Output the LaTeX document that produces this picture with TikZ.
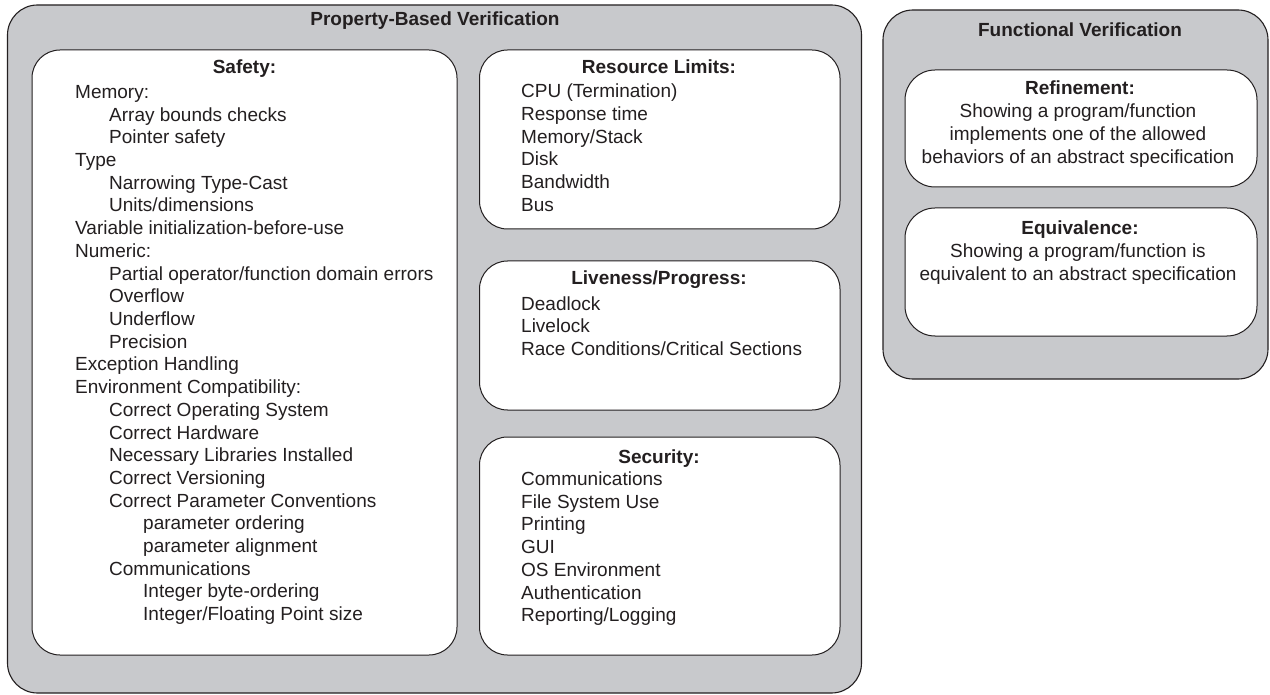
\documentclass[tikz,border=0pt]{standalone}
\usepackage{fontspec}
\setmainfont{Liberation Sans}
\definecolor{boxgray}{RGB}{200,201,204}
\definecolor{ink}{RGB}{35,31,32}
\begin{document}
\begin{tikzpicture}[x=1pt,y=-1pt,
  outerbox/.style={draw=ink,fill=boxgray,line width=1.1pt,rounded corners=30pt},
  innerbox/.style={draw=ink,fill=white,line width=1pt,rounded corners=28pt},
  txt/.style={inner sep=0pt,anchor=base west,text=ink,font=\fontsize{19}{22.7}\selectfont},
  ctxt/.style={inner sep=0pt,anchor=base,text=ink,font=\fontsize{19}{22.7}\selectfont},
  ttl/.style={inner sep=0pt,anchor=base,text=ink,font=\fontsize{19}{22.7}\selectfont\bfseries}]
\useasboundingbox (0,0) rectangle (1270,695);
% containers
\path[outerbox] (7.5,5) rectangle (861.5,693);
\path[outerbox] (883,10) rectangle (1268,379);
\path[innerbox] (32,50) rectangle (457,655);
\path[innerbox] (479.5,50) rectangle (840,229);
\path[innerbox] (479.5,261) rectangle (840,410);
\path[innerbox] (479.5,437) rectangle (840,655);
\path[innerbox,rounded corners=30pt] (905,70) rectangle (1257,187);
\path[innerbox,rounded corners=30pt] (905,208) rectangle (1257,336);
% titles
\node[ttl] (pbv) at (435,25.5) {Property-Based Verification};
\node[ttl] (fv) at (1080,36.5) {Functional Verification};
\node[ttl] (saf) at (244.5,74) {Safety:};
\node[ttl] (res) at (659,73.5) {Resource Limits:};
\node[ttl] (liv) at (659,285) {Liveness/Progress:};
\node[ttl] (sec) at (659,463) {Security:};
\node[ttl] (ref) at (1080,95) {Refinement:};
\node[ttl] (equ) at (1080,235) {Equivalence:};
% safety list
\foreach \l/\t [count=\i from 0] in {
  0/{Memory:},1/{Array bounds checks},1/{Pointer safety},
  0/{Type},1/{Narrowing Type-Cast},1/{Units/dimensions},
  0/{Variable initialization-before-use},0/{Numeric:},
  1/{Partial operator/function domain errors},1/{Overflow},1/{Underflow},1/{Precision},
  0/{Exception Handling},0/{Environment Compatibility:},
  1/{Correct Operating System},1/{Correct Hardware},1/{Necessary Libraries Installed},
  1/{Correct Versioning},1/{Correct Parameter Conventions},
  2/{parameter ordering},2/{parameter alignment},
  1/{Communications},2/{Integer byte-ordering},2/{Integer/Floating Point size}}
  \node[txt] (sf\i) at (75+34*\l,98.5+22.7*\i) {\t};
% resource limits
\foreach \t [count=\i from 0] in {{CPU (Termination)},{Response time},{Memory/Stack},{Disk},{Bandwidth},{Bus}}
  \node[txt] (rl\i) at (521,97.7+22.7*\i) {\t};
% liveness
\foreach \t [count=\i from 0] in {{Deadlock},{Livelock},{Race Conditions/Critical Sections}}
  \node[txt] (lp\i) at (521,310+22.7*\i) {\t};
% security
\foreach \t [count=\i from 0] in {{Communications},{File System Use},{Printing},{GUI},{OS Environment},{Authentication},{Reporting/Logging}}
  \node[txt] (sc\i) at (521,485.5+22.7*\i) {\t};
% refinement
\foreach \t [count=\i from 0] in {{Showing a program/function},{implements one of the allowed},{behaviors of an abstract specification}}
  \node[ctxt] (rf\i) at (1078,118+22.7*\i) {\t};
% equivalence
\foreach \t [count=\i from 0] in {{Showing a program/function is},{equivalent to an abstract specification}}
  \node[ctxt] (eq\i) at (1078,258+22.7*\i) {\t};
\end{tikzpicture}
\end{document}
